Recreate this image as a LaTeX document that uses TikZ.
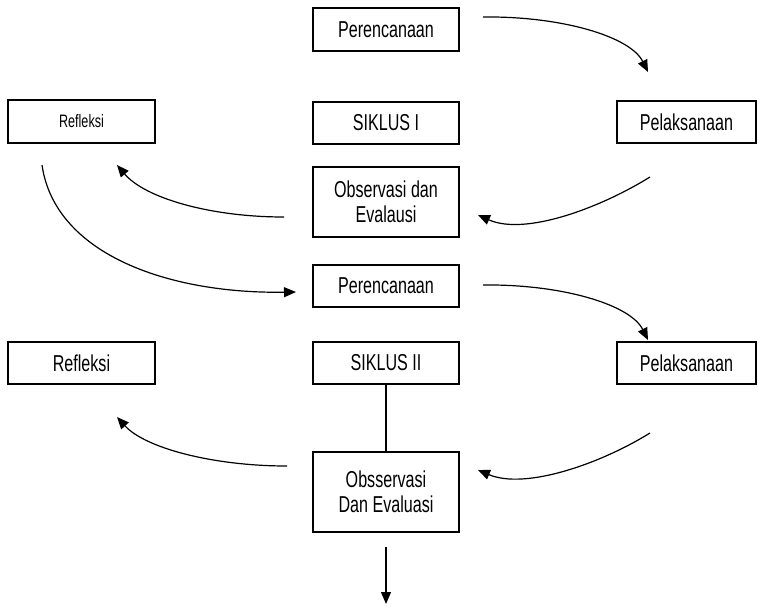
\documentclass[tikz,border=0pt]{standalone}
\usepackage{fontspec}
\setmainfont[FakeStretch=0.7]{Liberation Sans}
\usetikzlibrary{arrows.meta}
\begin{document}
\begin{tikzpicture}[x=1pt,y=-1pt,
  box/.style={draw, line width=1.3pt, inner sep=0pt, align=center, font=\fontsize{23}{25}\selectfont},
  conn/.style={line width=1.2pt, -{Triangle[length=12pt,width=10pt]}}]
\useasboundingbox (0,0) rectangle (758,606);
\node[box, minimum width=146pt, minimum height=43pt] (p1) at (386,29.5) {Perencanaan};
\node[box, minimum width=146pt, minimum height=42pt] (s1) at (386,123) {SIKLUS I};
\node[box, minimum width=147pt, minimum height=43pt, font=\fontsize{18}{20}\selectfont] (r1) at (81.5,121.5) {Refleksi};
\node[box, minimum width=146pt, minimum height=70pt] (o1) at (386,202) {Observasi dan\\Evalausi};
\node[box, minimum width=139pt, minimum height=42pt] (l1) at (686.5,122) {Pelaksanaan};
\node[box, minimum width=146pt, minimum height=42pt] (p2) at (386,286) {Perencanaan};
\node[box, minimum width=146pt, minimum height=42pt] (s2) at (386,363) {SIKLUS II};
\node[box, minimum width=147pt, minimum height=42pt] (r2) at (81.5,363) {Refleksi};
\node[box, minimum width=139pt, minimum height=42pt] (l2) at (686.5,363) {Pelaksanaan};
\node[box, minimum width=146pt, minimum height=80pt] (o2) at (386,492) {Obsservasi\\Dan Evaluasi};
% free ends
\coordinate (a1s) at (483,17);  \coordinate (a1e) at (648,72);
\coordinate (a2s) at (650,177); \coordinate (a2e) at (478,215);
\coordinate (a3s) at (284,217); \coordinate (a3e) at (117,165);
\coordinate (a4s) at (42,165);  \coordinate (a4e) at (296,292);
\coordinate (a5s) at (483,285); \coordinate (a5e) at (648,340);
\coordinate (a6s) at (650,433); \coordinate (a6e) at (478,470);
\coordinate (a7s) at (287,466); \coordinate (a7e) at (117,417);
\coordinate (a8s) at (386,547); \coordinate (a8e) at (386,604);
\draw[conn] (a1s) .. controls (560,16) and (630,36) .. (a1e);
\draw[conn] (a2s) .. controls (600,208) and (525,236) .. (a2e);
\draw[conn] (a3s) .. controls (210,217) and (145,198) .. (a3e);
\draw[conn] (a4s) .. controls (55,255) and (170,294) .. (a4e);
\draw[conn] (a5s) .. controls (560,284) and (630,304) .. (a5e);
\draw[conn] (a6s) .. controls (600,464) and (525,490) .. (a6e);
\draw[conn] (a7s) .. controls (213,466) and (145,448) .. (a7e);
\draw[line width=1.2pt] (s2.south) -- (o2.north);
\draw[conn] (a8s) -- (a8e);
\end{tikzpicture}
\end{document}
